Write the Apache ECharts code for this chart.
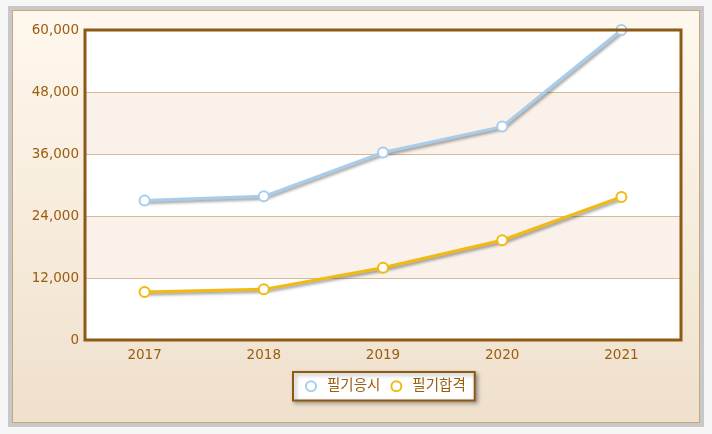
<!DOCTYPE html>
<html><head><meta charset="utf-8">
<script src="https://cdn.jsdelivr.net/npm/echarts@6/dist/echarts.min.js"></script>
<style>
html,body{margin:0;padding:0;background:#f6f6f6;width:712px;height:434px;overflow:hidden;}
#outer{position:absolute;left:8px;top:6px;width:688px;height:413px;border:4px solid #c8c8c8;}
#inner{position:absolute;left:0;top:0;width:686px;height:411px;border:1px solid #c9a77c;background:linear-gradient(#fff8ee,#efe0cc);}
#c{position:absolute;left:0;top:0;width:712px;height:434px;}
</style></head>
<body>
<div id="outer"><div id="inner"></div></div>
<div id="c"></div>
<script>
const categories = ['2017','2018','2019','2020','2021'];
const applicants = [27000, 27800, 36300, 41300, 60000];
const passed = [9300, 9800, 14000, 19300, 27700];
const seriesNames = ['필기응시','필기합격'];

const chart = echarts.init(document.getElementById('c'), null, {renderer:'canvas'});
const font = "'DejaVu Sans','Noto Sans CJK KR',sans-serif";
const labelColor = '#9c5c0e';
const shadow = {shadowColor:'rgba(0,0,0,0.4)', shadowBlur:3, shadowOffsetX:1.5, shadowOffsetY:2};
const G = {left:85, right:31, top:30, bottom:94};
chart.setOption({
  backgroundColor:'transparent',
  animation:false,
  grid:{left:G.left,right:G.right,top:G.top,bottom:G.bottom,show:true,borderWidth:0,backgroundColor:'#fff'},
  graphic:[{
    type:'rect', z:100, silent:true,
    shape:{x:G.left, y:G.top, width:712-G.left-G.right, height:434-G.top-G.bottom},
    style:{fill:'none', stroke:'#8c5a14', lineWidth:3}
  }],
  legend:{
    left:293, top:372,
    backgroundColor:'#fff', borderColor:'#8c5a14', borderWidth:2,
    shadowColor:'rgba(0,0,0,0.35)', shadowBlur:4, shadowOffsetX:2, shadowOffsetY:2,
    padding:[7,9,7,12], itemGap:10, itemWidth:10, itemHeight:10,
    icon:'emptyCircle',
    textStyle:{color:labelColor, fontSize:14.5, fontFamily:font, padding:[0,0,0,6]},
    data:seriesNames
  },
  xAxis:{
    type:'category', data:categories, boundaryGap:true,
    axisLine:{show:false}, axisTick:{show:false},
    axisLabel:{color:labelColor, fontSize:13.5, fontFamily:font, margin:9}
  },
  yAxis:{
    type:'value', min:0, max:60000, interval:12000,
    axisLine:{show:false}, axisTick:{show:false},
    axisLabel:{color:labelColor, fontSize:13.5, fontFamily:font, margin:6,
      formatter:v=>v.toLocaleString('en-US')},
    splitLine:{lineStyle:{color:'#d2bb99',width:1}},
    splitArea:{show:true, areaStyle:{color:['#ffffff','#f9f1ea']}}
  },
  series:[
    {name:seriesNames[0], type:'line', data:applicants, smooth:false,
     symbol:'emptyCircle', symbolSize:10,
     itemStyle:{color:'#a8cdec', borderWidth:2},
     lineStyle:Object.assign({width:3, color:'#a8cdec'}, shadow)},
    {name:seriesNames[1], type:'line', data:passed, smooth:false,
     symbol:'emptyCircle', symbolSize:10,
     itemStyle:{color:'#f2b90f', borderWidth:2},
     lineStyle:Object.assign({width:3, color:'#f2b90f'}, shadow)}
  ]
});
</script>
</body></html>
